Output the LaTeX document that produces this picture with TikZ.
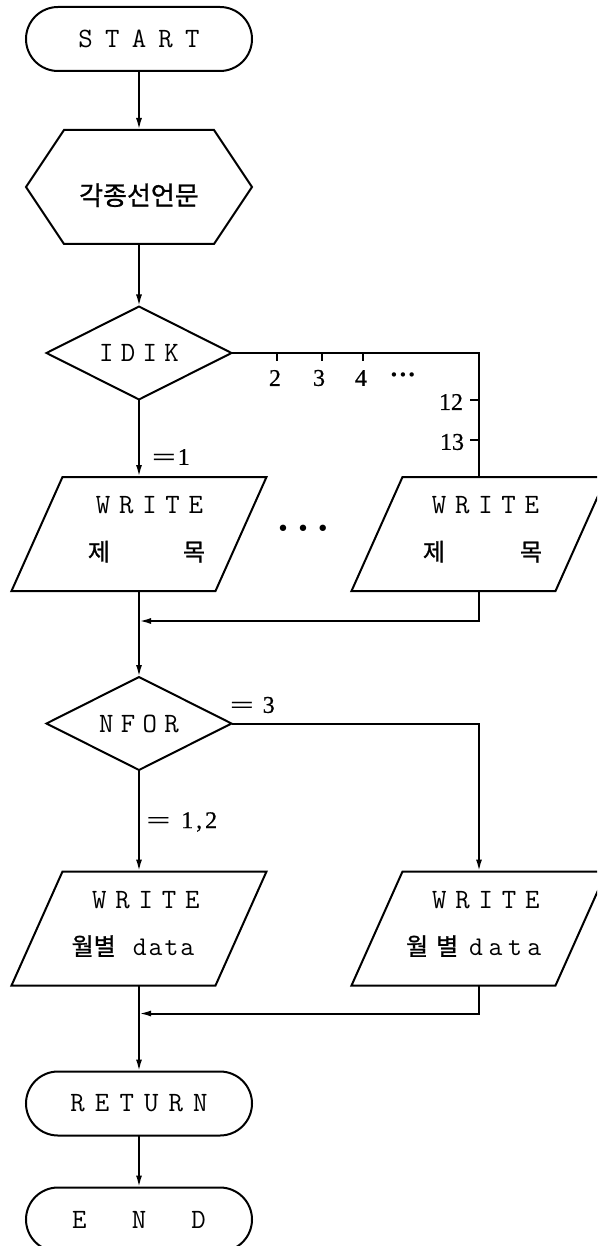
\documentclass[tikz,border=0pt]{standalone}
\usepackage{fontspec}
\setmainfont{Liberation Serif}
\newfontfamily\korfont[FakeBold=1]{Noto Sans CJK KR}
\newfontfamily\dotfont{DejaVu Sans}
\newfontfamily\numfont[FakeBold=0.6]{Liberation Serif}
\usetikzlibrary{shapes.geometric,shapes.misc,arrows.meta}

% typewriter face used for the box words
\newcommand\monoface{\ttfamily\addfontfeature{FakeBold=1.8}}
% Korean text size used inside the I/O boxes
\newcommand\kr{\korfont\fontsize{24}{28}\selectfont}
% wide equals sign of the branch labels
\newcommand\wideeq{\scalebox{1.75}[1]{=}}
% a line of text moved sideways by half of #1
\newcommand\shifted[2]{\makebox[0pt][c]{\hspace*{#1}#2}}
% two-line content of an input/output box
\newcommand\iotext[4]{\begin{tabular}{@{}c@{}}\shifted{#1}{#2}\\\shifted{#3}{#4}\end{tabular}}
\newcommand\writeword{W\hspace{8.8pt}R\hspace{8.8pt}I\hspace{8.8pt}T\hspace{8.8pt}E}
\newcommand\dataword[1]{{\monoface\fontsize{27}{30}\selectfont d\hspace{#1}a\hspace{#1}t\hspace{#1}a}}

\tikzset{
  every node/.style={inner sep=0pt, outer sep=0pt},
  outline/.style={line width=2pt, line join=miter},
  term/.style={rounded rectangle, draw, line width=2pt,
    minimum width=226pt, minimum height=64pt,
    font=\monoface\fontsize{28}{30}\selectfont},
  decision/.style={diamond, draw, line width=2pt, aspect=2,
    minimum width=185pt, minimum height=93pt,
    font=\monoface\fontsize{28}{30}\selectfont},
  prepbox/.style={rectangle, minimum width=226pt, minimum height=114pt,
    text height=36pt, text depth=0pt,
    font=\korfont\fontsize{26}{30}\selectfont},
  iobox/.style={rectangle, minimum width=204pt, minimum height=114pt,
    text height=45pt, text depth=45pt,
    font=\monoface\fontsize{28}{47}\selectfont},
  flow/.style={line width=2pt, -{Latex[length=12pt,width=6pt]}},
  link/.style={line width=2pt},
  tick/.style={line width=2pt},
  numlbl/.style={font=\numfont\fontsize{24}{28}\selectfont},
}

\begin{document}
\begin{tikzpicture}[x=1pt,y=-1pt]
\useasboundingbox (0,0) rectangle (597,1246);
\fill[white] (0,0) rectangle (597,1246);
\clip (0,0) rectangle (597,1246);

% ---- nodes ----
\node[term] (start) at (139,39) {S\hspace{12.3pt}T\hspace{12.3pt}A\hspace{12.3pt}R\hspace{12.3pt}T};
\node[prepbox] (decl) at (139,187) {각종선언문};
\node[decision] (idik) at (139,353) {I\hspace{7.3pt}D\hspace{7.3pt}I\hspace{7.3pt}K};
\node[iobox] (w1) at (139,534) {\iotext{21pt}{\writeword}{15pt}{\kr 제\hspace{73pt}목}};
\node[iobox] (w2) at (479,534) {\iotext{13pt}{\writeword}{7pt}{\kr 제\hspace{75pt}목}};
\node[decision] (nfor) at (139,723.5) {N\hspace{7.3pt}F\hspace{7.3pt}O\hspace{7.3pt}R};
\node[iobox] (w3) at (139,928.5) {\iotext{13.6pt}{\writeword}{-12pt}{\kr 월별\hspace{17pt}\dataword{2pt}}};
\node[iobox] (w4) at (479,928.5) {\iotext{13.6pt}{\writeword}{-10.6pt}{\kr 월\hspace{8pt}별\hspace{11pt}\dataword{5.5pt}}};
\node[term] (ret) at (139,1103.5) {R\hspace{10.1pt}E\hspace{10.1pt}T\hspace{10.1pt}U\hspace{10.1pt}R\hspace{10.1pt}N};
\node[term] (stop) at (139,1219.5) {E\hspace{45.3pt}N\hspace{45.3pt}D};

% ---- hexagon (declarations) ----
\draw[outline] ([xshift=38pt]decl.north west) -- ([xshift=-38pt]decl.north east)
  -- (decl.east) -- ([xshift=-38pt]decl.south east) -- ([xshift=38pt]decl.south west)
  -- (decl.west) -- cycle;

% ---- parallelograms (output) ----
\foreach \b in {w1,w2,w3,w4}{
  \draw[outline] ([xshift=25.5pt]\b.north west) -- ([xshift=25.5pt]\b.north east)
    -- ([xshift=-25.5pt]\b.south east) -- ([xshift=-25.5pt]\b.south west) -- cycle;
}

% ---- junction points ----
\coordinate (j1) at (139,621);
\coordinate (j2) at (139,1013.5);

% ---- connectors ----
\draw[flow] (start.south) -- (decl.north);
\draw[flow] (decl.south) -- (idik.north);
\draw[flow] (idik.south) -- (w1.north);
\draw[link] (idik.east) -| (w2.north);
\draw[flow] (w1.south) -- (nfor.north);
\draw[flow] (w2.south) |- (j1);
\draw[flow] (nfor.south) -- (w3.north);
\draw[flow] (nfor.east) -| (w4.north);
\draw[flow] (w3.south) -- (ret.north);
\draw[flow] (w4.south) |- (j2);
\draw[flow] (ret.south) -- (stop.north);

% ---- case ticks on the IDIK branch ----
\coordinate (t2) at (276.7,353);
\coordinate (t3) at (321.7,353);
\coordinate (t4) at (363,353);
\coordinate (t12) at (479,400);
\coordinate (t13) at (479,440);
\foreach \t in {t2,t3,t4}{ \draw[tick] (\t) -- ++(0,8); }
\foreach \t in {t12,t13}{ \draw[tick] (\t) -- ++(-9,0); }

% ---- labels ----
\node[numlbl] (c2) at (275,378) {2};
\node[numlbl] (c3) at (319,378) {3};
\node[numlbl] (c4) at (361,378) {4};
\node[font=\dotfont\fontsize{15}{18}\selectfont] (cdots) at (403,376.5) {•••};
\node[numlbl] (c12) at (451,402) {12};
\node[numlbl] (c13) at (452,442) {13};
\node[numlbl, anchor=west] (e1) at (152,457) {\wideeq\hspace{2pt}1};
\node[font=\dotfont\fontsize{22}{26}\selectfont] (more) at (303,530.5) {•\hspace{7pt}•\hspace{7pt}•};
\node[numlbl, anchor=west] (e3) at (230,705) {\wideeq\hspace{9pt}3};
\node[numlbl, anchor=west] (e12) at (146.5,822) {\wideeq\hspace{11pt}1\hspace{3pt},\hspace{3pt}2};
\end{tikzpicture}
\end{document}
